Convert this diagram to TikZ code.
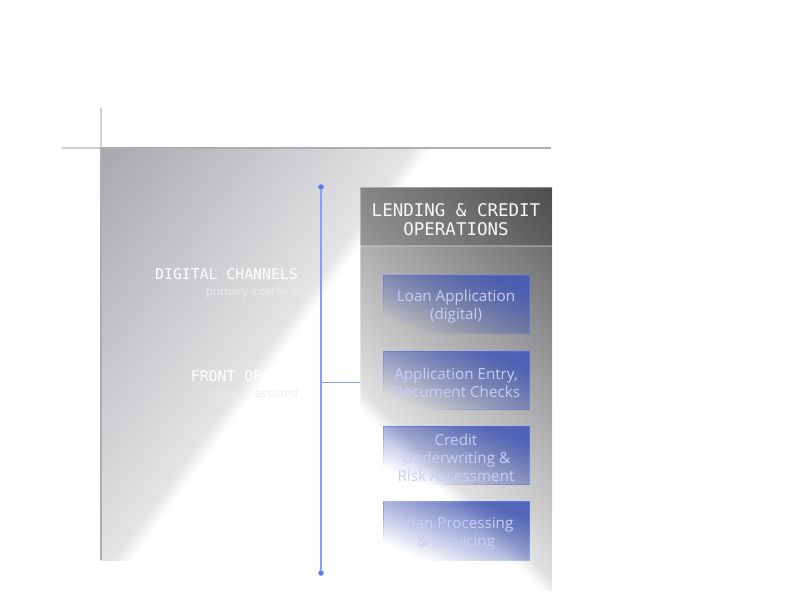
\documentclass[tikz,border=0pt]{standalone}
\usepackage{fontspec}
\setmainfont{Open Sans}
\newfontfamily\monofont{DejaVu Sans Mono}
\usetikzlibrary{fadings}

\definecolor{mA}{RGB}{167,168,174}
\definecolor{mB}{RGB}{228,228,230}
\definecolor{rA}{RGB}{90,91,93}
\definecolor{rB}{RGB}{224,224,225}
\definecolor{axisgray}{RGB}{208,208,212}
\definecolor{edgegray}{RGB}{174,174,178}
\definecolor{connblue}{RGB}{135,160,247}
\definecolor{dotblue}{RGB}{92,124,242}
\definecolor{boxblue}{RGB}{70,90,180}
\definecolor{boxedge}{RGB}{80,108,225}
\definecolor{boxtext}{RGB}{200,206,245}
\definecolor{subtext}{RGB}{236,236,238}

\pgfdeclarehorizontalshading{mainsh}{100bp}{color(0bp)=(mA); color(15.2bp)=(mA); color(44.1bp)=(mB); color(45.9bp)=(white); color(100bp)=(white)}
\pgfdeclarehorizontalshading{rightsh}{100bp}{color(0bp)=(rA); color(14.64bp)=(rA); color(61.3bp)=(rB); color(64.14bp)=(white); color(100bp)=(white)}
\tikzfading[name=boxfade, left color=transparent!100, right color=transparent!10]

\tikzset{
  opbox/.style={draw=boxedge, line width=1pt, fill=boxblue, path fading=boxfade, fading angle=45,
    minimum width=146pt, minimum height=58pt, inner sep=0pt},
  boxtxt/.style={inner sep=0pt, align=center, font=\fontsize{15.2}{18}\selectfont, text=boxtext},
  monotitle/.style={font=\monofont\fontsize{14.8}{18}\selectfont, text=white, inner sep=0pt},
  subtitle/.style={font=\fontsize{11.4}{13}\selectfont, text=subtext, inner sep=0pt},
  conn/.style={draw=connblue, line width=1.4pt},
  dot/.style={circle, fill=dotblue, inner sep=0pt, minimum size=5.5pt},
  axisline/.style={draw=axisgray, line width=1.5pt},
}

\begin{document}
\begin{tikzpicture}[x=1pt,y=-1pt]
\useasboundingbox (0,0) rectangle (802,608);
% main panel
\shade[shading=mainsh, shading angle=-36] (101,148) rectangle (551,560);
\draw[axisline] (62,148) -- (101,148);
\draw[axisline] (101,108) -- (101,148);
\draw[draw=edgegray, line width=1.5pt] (101,560) -- (101,148) -- (551,148);

% right panel
\shade[shading=rightsh, shading angle=-135] (360,187) rectangle (552,590);
\fill[black, opacity=0.14] (360,187) rectangle (552,246);
\draw[white, opacity=0.25, line width=1.2pt] (360,246) -- (552,246);
\draw[white, opacity=0.35, line width=0.8pt] (360,187) rectangle (552,590);
\node[monotitle, font=\monofont\fontsize{17.5}{19}\selectfont, align=center, text=white!94!gray] (head) at (456,220) {LENDING \& CREDIT\\OPERATIONS};

% left labels
\node[monotitle, anchor=base east] (dig) at (298,279) {DIGITAL CHANNELS};
\node[subtitle, anchor=base east] (digs) at (298,295) {primary interface};
\node[monotitle, anchor=base east] (fro) at (298,381) {FRONT OFFICE};
\node[subtitle, anchor=base east] (fros) at (298,397) {support, assisted};

% boxes
\node[opbox] (b1) at (456,304.5) {};
\node[opbox] (b2) at (456,380.5) {};
\node[opbox] (b3) at (456,455.5) {};
\node[opbox] (b4) at (456,531) {};
\node[boxtxt] (t1) at ([yshift=-2.5pt]b1.center) {Loan Application\\(digital)};
\node[boxtxt] (t2) at ([yshift=-2.5pt]b2.center) {Application Entry,\\Document Checks};
\node[boxtxt] (t3) at ([yshift=-2.5pt]b3.center) {Credit\\Underwriting \&\\Risk Assessment};
\node[boxtxt] (t4) at ([yshift=-2.5pt]b4.center) {Loan Processing\\\& Servicing};

% connectors
\node[dot] (dtop) at (321,187) {};
\node[dot] (dbot) at (321,573) {};
\coordinate (junc) at (321,382);
\coordinate (pin) at (360,382);
\draw[conn] (dtop) -- (dbot);
\draw[conn, line width=1pt] (junc) -- (pin);
\end{tikzpicture}
\end{document}
